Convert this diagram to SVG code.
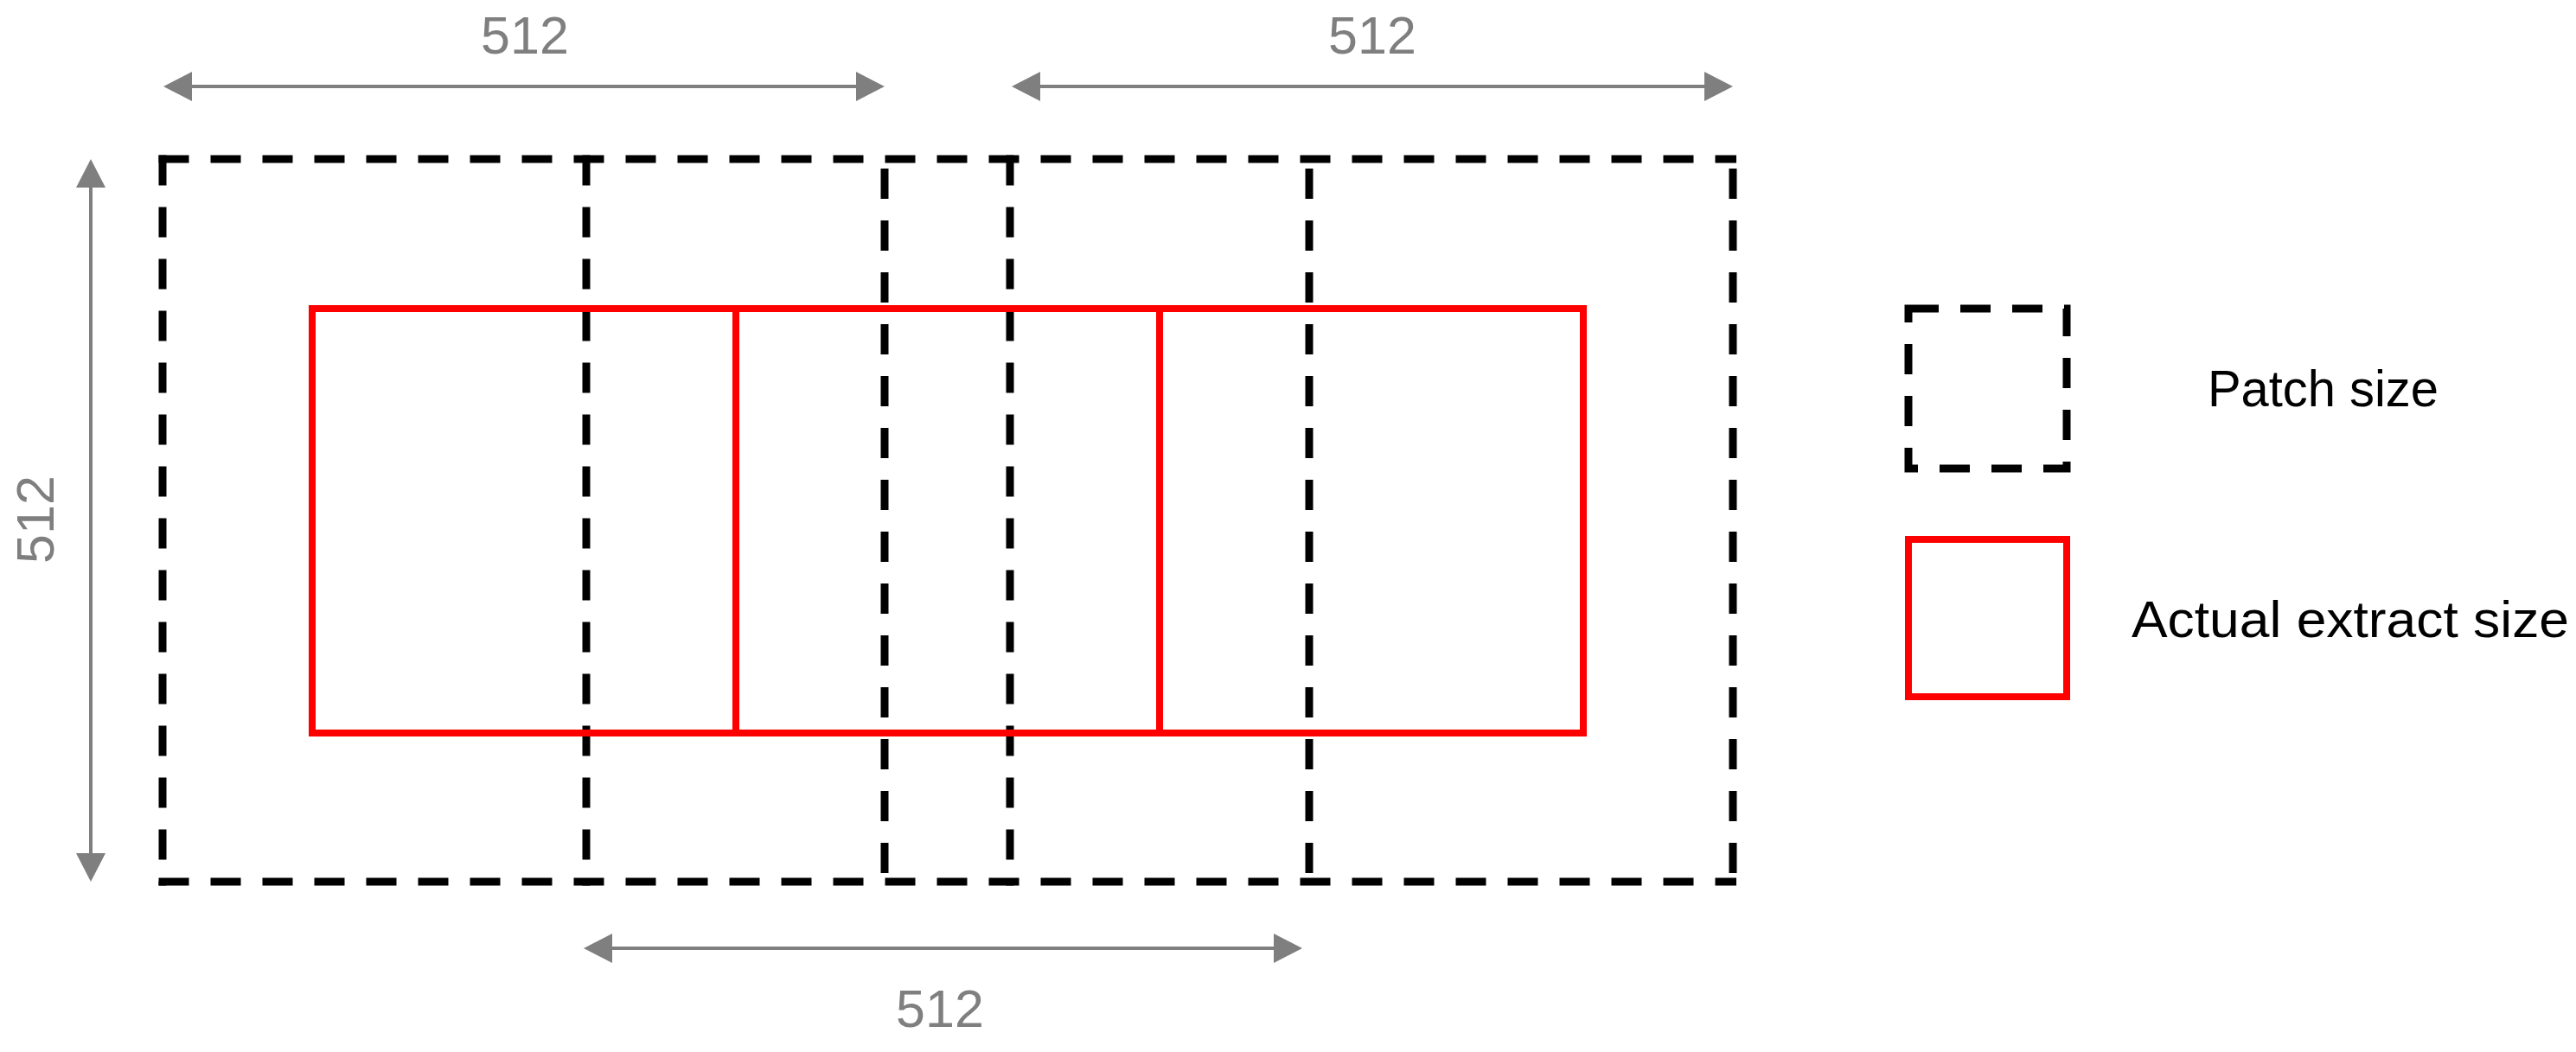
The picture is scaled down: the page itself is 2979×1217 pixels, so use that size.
<svg xmlns="http://www.w3.org/2000/svg" width="2979" height="1217" viewBox="0 0 2979 1217">
  <style>
    .dash { fill: none; stroke: #000000; stroke-width: 9; stroke-dasharray: 35 25; }
    .extract { fill: none; stroke: #FF0000; stroke-width: 8; }
    .dim { stroke: #7F7F7F; stroke-width: 4; fill: none; marker-start: url(#arrowhead); marker-end: url(#arrowhead); }
    .dimlabel { font-family: "Liberation Sans", Arial, sans-serif; font-size: 61px; fill: #7F7F7F; text-anchor: middle; }
    .legendlabel { font-family: "Liberation Sans", Arial, sans-serif; font-size: 60px; fill: #000000; }
  </style>
  <defs>
    <marker id="arrowhead" markerUnits="userSpaceOnUse" markerWidth="34" markerHeight="34" viewBox="0 0 33 34" refX="23" refY="17" orient="auto-start-reverse">
      <path d="M0,0 L33,17 L0,34 Z" fill="#7F7F7F"/>
    </marker>
  </defs>
  <rect width="2979" height="1217" fill="#FFFFFF"/>

  <!-- shared top and bottom outline of the overlapping patches -->
  <g id="patch-outline">
    <line class="dash" x1="183.5" y1="184" x2="2008" y2="184"/>
    <line class="dash" x1="183.5" y1="1020" x2="2008" y2="1020"/>
  </g>

  <g id="patch-1">
    <line class="dash" x1="188" y1="179.5" x2="188" y2="1024.5"/>
    <line class="dash" x1="1023" y1="195" x2="1023" y2="1024.5"/>
  </g>
  <g id="patch-2">
    <line class="dash" x1="678" y1="179.5" x2="678" y2="1024.5"/>
    <line class="dash" x1="1514" y1="195" x2="1514" y2="1024.5"/>
  </g>
  <g id="patch-3">
    <line class="dash" x1="1168" y1="179.5" x2="1168" y2="1024.5"/>
    <line class="dash" x1="2004" y1="195" x2="2004" y2="1024.5"/>
  </g>

  <g id="extract-1"><rect class="extract" x="361" y="357" width="490" height="491"/></g>
  <g id="extract-2"><rect class="extract" x="851" y="357" width="490" height="491"/></g>
  <g id="extract-3"><rect class="extract" x="1341" y="357" width="490" height="491"/></g>

  <g id="connectors">
    <line class="dim" x1="199" y1="100" x2="1013" y2="100"/>
    <line class="dim" x1="1180" y1="100" x2="1994" y2="100"/>
    <line class="dim" x1="105" y1="194" x2="105" y2="1010"/>
    <line class="dim" x1="685" y1="1097" x2="1496" y2="1097"/>
  </g>

  <g id="dimension-labels">
    <text class="dimlabel" x="607" y="62">512</text>
    <text class="dimlabel" x="1587" y="62">512</text>
    <text class="dimlabel" x="1087" y="1188">512</text>
    <text class="dimlabel" transform="translate(62,601) rotate(-90)">512</text>
  </g>

  <g id="legend-patch">
    <rect class="dash" x="2207" y="357" width="183" height="185"/>
    <text class="legendlabel" x="2553" y="470" textLength="267" lengthAdjust="spacingAndGlyphs">Patch size</text>
  </g>
  <g id="legend-extract">
    <rect class="extract" x="2207" y="624" width="183" height="182"/>
    <text class="legendlabel" x="2465" y="737" textLength="506" lengthAdjust="spacingAndGlyphs">Actual extract size</text>
  </g>
</svg>
